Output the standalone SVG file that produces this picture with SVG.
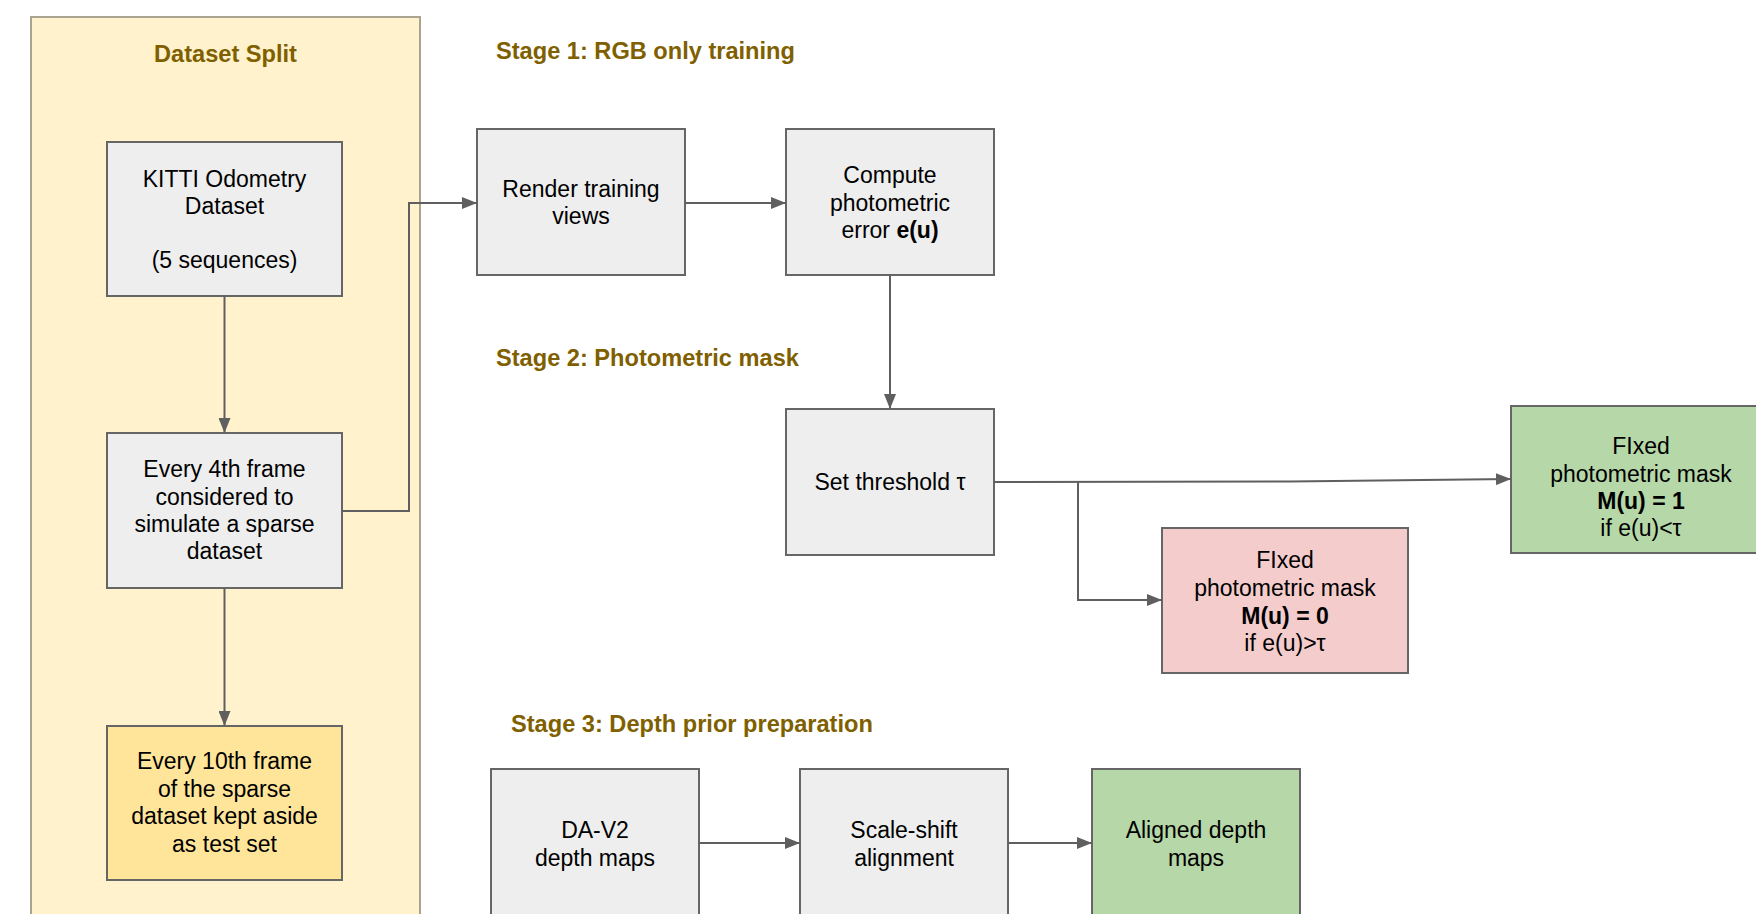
<svg xmlns="http://www.w3.org/2000/svg" width="1756" height="914" viewBox="0 0 1756 914">
<defs>
<style>
.box{fill:#eeeeee;stroke:#666666;stroke-width:2}
.t{font-family:"Liberation Sans",Arial,sans-serif;font-size:23px;fill:#000;text-anchor:middle}
.h{font-family:"Liberation Sans",Arial,sans-serif;font-size:23.6px;font-weight:bold;fill:#7f6000}
.c{fill:none;stroke:#5f5f5f;stroke-width:2}
.b{font-weight:bold}
</style>
<marker id="ah" viewBox="0 0 15 12" refX="15" refY="6" markerWidth="15" markerHeight="12" markerUnits="userSpaceOnUse" orient="auto">
<path d="M0,0 L15,6 L0,12 z" fill="#5f5f5f"/>
</marker>
</defs>
<rect width="1756" height="914" fill="#ffffff"/>
<g id="dataset-split">
<rect x="31" y="17" width="389" height="920" fill="#fff2cc" stroke="#a8a48e" stroke-width="2"/>
<text class="h" x="225.5" y="62" text-anchor="middle">Dataset Split</text>
</g>
<g id="stage-labels">
<text class="h" x="496" y="59">Stage 1: RGB only training</text>
<text class="h" x="496" y="366">Stage 2: Photometric mask</text>
<text class="h" x="511" y="732">Stage 3: Depth prior preparation</text>
</g>
<g id="kitti">
<rect class="box" x="107" y="142" width="235" height="154"/>
<text class="t" x="224.5" y="187">KITTI Odometry</text>
<text class="t" x="224.5" y="214">Dataset</text>
<text class="t" x="224.5" y="268">(5 sequences)</text>
</g>
<g id="every4th">
<rect class="box" x="107" y="433" width="235" height="155"/>
<text class="t" x="224.5" y="477">Every 4th frame</text>
<text class="t" x="224.5" y="505">considered to</text>
<text class="t" x="224.5" y="532">simulate a sparse</text>
<text class="t" x="224.5" y="559">dataset</text>
</g>
<g id="every10th">
<rect x="107" y="726" width="235" height="154" fill="#ffe599" stroke="#666666" stroke-width="2"/>
<text class="t" x="224.5" y="769">Every 10th frame</text>
<text class="t" x="224.5" y="797">of the sparse</text>
<text class="t" x="224.5" y="824">dataset kept aside</text>
<text class="t" x="224.5" y="852">as test set</text>
</g>
<g id="render">
<rect class="box" x="477" y="129" width="208" height="146"/>
<text class="t" x="581" y="197">Render training</text>
<text class="t" x="581" y="224">views</text>
</g>
<g id="compute">
<rect class="box" x="786" y="129" width="208" height="146"/>
<text class="t" x="890" y="183">Compute</text>
<text class="t" x="890" y="211">photometric</text>
<text class="t" x="890" y="238">error <tspan class="b">e(u)</tspan></text>
</g>
<g id="threshold">
<rect class="box" x="786" y="409" width="208" height="146"/>
<text class="t" x="890" y="490">Set threshold τ</text>
</g>
<g id="mask0">
<rect x="1162" y="528" width="246" height="145" fill="#f4cccc" stroke="#666666" stroke-width="2"/>
<text class="t" x="1285" y="568">FIxed</text>
<text class="t" x="1285" y="596">photometric mask</text>
<text class="t b" x="1285" y="624">M(u) = 0</text>
<text class="t" x="1285" y="651">if e(u)&gt;τ</text>
</g>
<g id="mask1">
<rect x="1511" y="406" width="255" height="147" fill="#b6d7a8" stroke="#666666" stroke-width="2"/>
<text class="t" x="1641" y="454">FIxed</text>
<text class="t" x="1641" y="482">photometric mask</text>
<text class="t b" x="1641" y="509">M(u) = 1</text>
<text class="t" x="1641" y="536">if e(u)&lt;τ</text>
</g>
<g id="dav2">
<rect class="box" x="491" y="769" width="208" height="160"/>
<text class="t" x="595" y="838">DA-V2</text>
<text class="t" x="595" y="866">depth maps</text>
</g>
<g id="scaleshift">
<rect class="box" x="800" y="769" width="208" height="160"/>
<text class="t" x="904" y="838">Scale-shift</text>
<text class="t" x="904" y="866">alignment</text>
</g>
<g id="aligned">
<rect x="1092" y="769" width="208" height="160" fill="#b6d7a8" stroke="#666666" stroke-width="2"/>
<text class="t" x="1196" y="838">Aligned depth</text>
<text class="t" x="1196" y="866">maps</text>
</g>
<g id="connectors">
<path class="c" d="M224.5,296 L224.5,433" marker-end="url(#ah)"/>
<path class="c" d="M224.5,588 L224.5,726" marker-end="url(#ah)"/>
<path class="c" d="M342,511 L409,511 L409,203 L477,203" marker-end="url(#ah)"/>
<path class="c" d="M685,203 L786,203" marker-end="url(#ah)"/>
<path class="c" d="M890,275 L890,409" marker-end="url(#ah)"/>
<path class="c" d="M994,482 L1290,481.5 L1511,479" marker-end="url(#ah)"/>
<path class="c" d="M1078,482 L1078,600 L1162,600" marker-end="url(#ah)"/>
<path class="c" d="M699,843 L800,843" marker-end="url(#ah)"/>
<path class="c" d="M1008,843 L1092,843" marker-end="url(#ah)"/>
</g>
</svg>
